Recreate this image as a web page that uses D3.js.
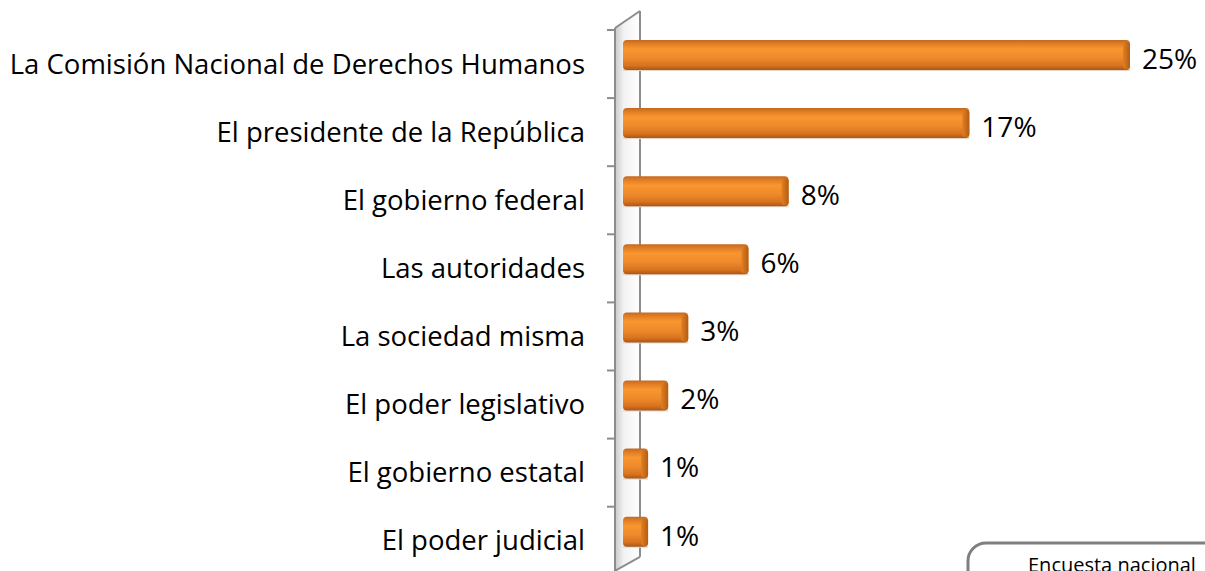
<!DOCTYPE html>
<html>
<head>
<meta charset="utf-8">
<script src="https://cdn.jsdelivr.net/npm/d3@7"></script>
<style>
  html, body { margin: 0; padding: 0; background: #fff; overflow: hidden; }
  svg { display: block; font-family: "Open Sans", sans-serif; }
</style>
</head>
<body>
<svg></svg>
<script>
// Chart data
const categories = [
    "La Comisión Nacional de Derechos Humanos",
    "El presidente de la República",
    "El gobierno federal",
    "Las autoridades",
    "La sociedad misma",
    "El poder legislativo",
    "El gobierno estatal",
    "El poder judicial"
];
const values = [25, 17, 8, 6, 3, 2, 1, 1];
const valueLabels = ["25%", "17%", "8%", "6%", "3%", "2%", "1%", "1%"];
const noteText = "Encuesta nacional";

const width = 1205, height = 571;
const svg = d3.select("svg").attr("width", width).attr("height", height);

// Scales
const x = d3.scaleLinear().domain([0, 25]).range([623, 1125]);
const y = d3.scaleBand().domain(categories).range([30, 30 + 8 * 68.1]);

const wallL = 615, wallR = 640, depth = 5;

// Gradients
const defs = svg.append("defs");
const barGrad = defs.append("linearGradient")
    .attr("id", "barGrad").attr("x1", 0).attr("y1", 0).attr("x2", 0).attr("y2", 1);
[[0, "#c4691f"], [0.12, "#e07d26"], [0.3, "#f8962f"], [0.6, "#ee8a2b"], [0.85, "#d8731f"], [1, "#a9561a"]]
    .forEach(([o, c]) => barGrad.append("stop").attr("offset", o).attr("stop-color", c));

const capGrad = defs.append("linearGradient")
    .attr("id", "capGrad").attr("x1", 0).attr("y1", 0).attr("x2", 1).attr("y2", 0);
[[0, "#e0801f"], [1, "#b35c17"]]
    .forEach(([o, c]) => capGrad.append("stop").attr("offset", o).attr("stop-color", c));

const wallGrad = defs.append("linearGradient")
    .attr("id", "wallGrad").attr("x1", 0).attr("y1", 0).attr("x2", 1).attr("y2", 0);
[[0, "#c9c9c9"], [0.35, "#f2f2f2"], [1, "#ffffff"]]
    .forEach(([o, c]) => wallGrad.append("stop").attr("offset", o).attr("stop-color", c));

// Back wall of the 3D axis
const yTop = y.range()[0], yBot = y.range()[1];
svg.append("path")
    .attr("d", `M${wallL},${yTop - 2} L${wallR},${yTop - 19} L${wallR},${yBot - 18} L${wallL},${yBot - 4} Z`)
    .attr("fill", "url(#wallGrad)");

svg.append("g")
    .attr("fill", "none")
    .attr("stroke", "#8c8c8c")
    .attr("stroke-width", 2)
    .call(g => {
        g.append("line").attr("x1", wallL).attr("x2", wallL).attr("y1", yTop - 2).attr("y2", yBot);
        g.append("line").attr("x1", wallR).attr("x2", wallR).attr("y1", yTop - 19).attr("y2", yBot - 18);
        g.append("line").attr("x1", wallL).attr("x2", wallR).attr("y1", yTop - 2).attr("y2", yTop - 19);
        g.append("line").attr("x1", wallL).attr("x2", wallR).attr("y1", yBot - 4).attr("y2", yBot - 18);
    });

// Tick marks between categories
svg.append("g")
    .selectAll("line")
    .data(d3.range(categories.length + 1))
    .join("line")
    .attr("x1", 607).attr("x2", wallL)
    .attr("y1", i => yTop + i * y.step())
    .attr("y2", i => yTop + i * y.step())
    .attr("stroke", "#8c8c8c")
    .attr("stroke-width", 2);

// Bars
const bars = svg.append("g")
    .selectAll("g")
    .data(categories.map((c, i) => ({cat: c, value: values[i], label: valueLabels[i]})))
    .join("g")
    .attr("transform", d => `translate(0,${y(d.cat) + 10})`);

// soft shadow under bars
bars.append("rect")
    .attr("x", x(0)).attr("y", 29)
    .attr("width", d => x(d.value) - x(0) + depth)
    .attr("height", 2)
    .attr("fill", "#e6d6c8");

bars.append("rect")
    .attr("x", x(0)).attr("y", 0)
    .attr("width", d => x(d.value) - x(0) + depth)
    .attr("height", 30)
    .attr("rx", 4)
    .attr("fill", "url(#barGrad)");

// right end face
bars.append("rect")
    .attr("x", d => x(d.value) - 2)
    .attr("y", 2)
    .attr("width", depth + 2)
    .attr("height", 27)
    .attr("rx", 3)
    .attr("fill", "url(#capGrad)");

// Value labels
bars.append("text")
    .attr("x", d => x(d.value) + depth + 12)
    .attr("y", 19)
    .attr("dy", "0.35em")
    .style("font-size", "28px")
    .attr("fill", "#000")
    .text(d => d.label);

// Category labels
svg.append("g")
    .selectAll("text")
    .data(categories)
    .join("text")
    .attr("x", 585)
    .attr("y", d => y(d) + y.bandwidth() / 2)
    .attr("dy", "0.35em")
    .attr("text-anchor", "end")
    .style("font-size", "27.5px")
    .attr("fill", "#000")
    .text(d => d);

// Source note box (cut by the edge)
svg.append("rect")
    .attr("x", 968).attr("y", 543)
    .attr("width", 400).attr("height", 80)
    .attr("rx", 18)
    .attr("fill", "#fff")
    .attr("stroke", "#7f7f7f")
    .attr("stroke-width", 3);

svg.append("text")
    .attr("x", 1028).attr("y", 572)
    .style("font-size", "20px")
    .attr("fill", "#000")
    .text(noteText);
</script>
</body>
</html>
